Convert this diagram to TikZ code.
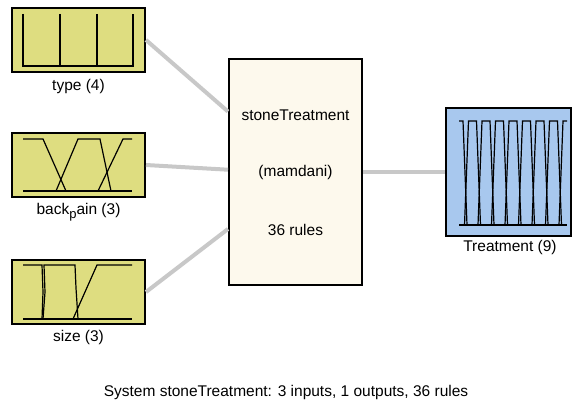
\documentclass[tikz,border=0pt]{standalone}
\usepackage{fontspec}
\setmainfont{Liberation Sans}
\usetikzlibrary{calc}

\definecolor{mfyellow}{RGB}{222,221,128}
\definecolor{mfblue}{RGB}{168,200,238}
\definecolor{fiscream}{RGB}{253,249,237}
\definecolor{linkgray}{RGB}{200,200,200}

\begin{document}
\begin{tikzpicture}[
  x=1pt, y=-1pt,
  font=\fontsize{15.5}{18}\selectfont,
  varbox/.style={draw, line width=2pt, minimum width=133pt, minimum height=64pt, inner sep=0pt},
  inbox/.style={varbox, fill=mfyellow},
  outbox/.style={varbox, fill=mfblue, minimum width=125pt, minimum height=128pt},
  fisbox/.style={draw, line width=2pt, fill=fiscream, minimum width=133pt, minimum height=226pt, inner sep=0pt},
  lbl/.style={inner sep=0pt, anchor=center},
  link/.style={draw=linkgray, line width=4pt},
  mfline/.style={line width=1.2pt, line join=miter}
]
\useasboundingbox (0,0) rectangle (573,401);

% Input variables
\node[inbox] (type) at (78.5,40) {};
\node[inbox] (pain) at (78.5,165) {};
\node[inbox] (size) at (78.5,292) {};
\node[lbl] (typelbl) at (78.5,86) {type (4)};
\node[lbl] (painlbl) at (78.5,212) {back\raisebox{-0.55ex}{\fontsize{13}{14}\selectfont p}ain (3)};
\node[lbl] (sizelbl) at (78.5,337) {size (3)};

% Rule block
\node[fisbox] (fis) at (295.5,172) {};
\node[lbl] (fisname) at (295.5,115) {stoneTreatment};
\node[lbl] (fistype) at (295.5,172) {(mamdani)};
\node[lbl] (fisrules) at (295.5,230) {36 rules};

% Output variable
\node[outbox] (treat) at (508.5,172) {};
\node[lbl] (treatlbl) at (510,247) {Treatment (9)};

% Connectors
\coordinate (in1) at ($(fis.north west)!0.235!(fis.south west)$);
\coordinate (in2) at ($(fis.north west)!0.49!(fis.south west)$);
\coordinate (in3) at ($(fis.north west)!0.75!(fis.south west)$);
\draw[link] (type.east) -- (in1);
\draw[link] (pain.east) -- (in2);
\draw[link] (size.east) -- (in3);
\draw[link] (fis.east) -- (treat.west);

% Membership functions: type
\draw[mfline] (23,14) -- (23,66) -- (133,66) -- (133,14);
\foreach \x in {60,97} {
  \draw[mfline] (\x,14) -- (\x,66);
}

% Membership functions: back_pain
\draw[mfline] (23,191) -- (132,191);
\draw[mfline] (23,139) -- (43,139) -- (66,191);
\draw[mfline] (56,191) -- (78,139) -- (100,139) -- (111,191);
\draw[mfline] (98,191) -- (123,139) -- (132,139);

% Membership functions: size
\draw[mfline] (23,319) -- (132,319);
\draw[mfline] (23,265) -- (42,265) -- (43,292) -- (42,319);
\draw[mfline] (43,319) -- (45,292) -- (44,265) -- (75,265) -- (76,288) -- (78,319);
\draw[mfline] (73,319) -- (97,265) -- (132,265);

% Membership functions: Treatment
\draw[mfline] (459,225) -- (567,225);
\draw[mfline] (459,121) -- (463,121) -- (467,225);
\foreach \i in {1,...,7} {
  \pgfmathsetmacro{\c}{459+13.5*\i}
  \draw[mfline] (\c-8,225) -- (\c-4,121) -- (\c+4,121) -- (\c+8,225);
}
\draw[mfline] (559,225) -- (563,121) -- (567,121);

% Caption
\node[lbl] (caption) at (286,392) {System stoneTreatment: 3 inputs, 1 outputs, 36 rules};
\end{tikzpicture}
\end{document}
